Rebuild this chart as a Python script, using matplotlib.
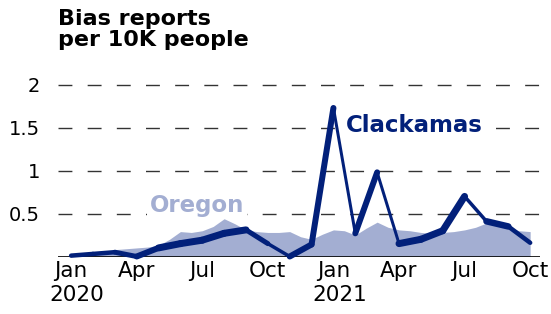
import numpy as np
import matplotlib.pyplot as plt
from matplotlib.collections import LineCollection

# month index: 0 = Jan 2020 ... 21 = Oct 2021
months = np.arange(22)
clackamas = [0.01, 0.03, 0.05, 0.00, 0.10, 0.15, 0.19, 0.27, 0.31, 0.15, 0.00, 0.14,
             1.73, 0.27, 0.98, 0.15, 0.20, 0.30, 0.70, 0.41, 0.35, 0.16]
# line thickness per month-to-month segment (pixels)
clack_width_px = [4.5, 4.5, 5, 6, 7, 7, 7, 7, 5, 3.5, 6, 6,
                  3, 6, 3, 7, 7, 7, 3.5, 6.5, 4.5]

# Oregon, read at half-month steps
oregon_months = np.arange(0, 21.5, 0.5)
oregon = [0.00, 0.02, 0.04, 0.06, 0.08, 0.09, 0.10, 0.11, 0.13, 0.20,
          0.29, 0.28, 0.30, 0.35, 0.44, 0.38, 0.31, 0.29, 0.28, 0.28,
          0.29, 0.23, 0.20, 0.26, 0.31, 0.30, 0.25, 0.33, 0.40, 0.34,
          0.31, 0.30, 0.28, 0.27, 0.28, 0.29, 0.31, 0.34, 0.39, 0.36,
          0.33, 0.30, 0.29]

tick_pos = [0, 3, 6, 9, 12, 15, 18, 21]
tick_labels = ['Jan', 'Apr', 'Jul', 'Oct', 'Jan', 'Apr', 'Jul', 'Oct']
years = {0: '2020', 12: '2021'}

navy = '#02207a'
light = '#a3aed2'

fig = plt.figure(figsize=(5.51, 3.14), dpi=100)
ax = fig.add_axes([58 / 551, 57.5 / 314, 482 / 551, 176 / 314])
ax.set_xlim(-0.6, 21.45)
ax.set_ylim(0, 2.05)

ax.fill_between(oregon_months, 0, oregon, color=light, lw=0, zorder=1)
ax.axhline(0, color='black', lw=1.2, zorder=2)

pts = np.column_stack([months, clackamas])
segs = np.stack([pts[:-1], pts[1:]], axis=1)
lc = LineCollection(segs, colors=navy, linewidths=np.array(clack_width_px) * 0.72,
                    capstyle='round', joinstyle='round', zorder=3, clip_on=False)
ax.add_collection(lc)

# white boxes break the grid lines behind the labels, but stay under the data
box = dict(facecolor='white', edgecolor='none', pad=2)
ax.text(3.6, 0.52, 'Oregon', color=light, fontsize=16.5, fontweight='bold',
        bbox=box, zorder=0.8)
ax.text(12.55, 1.45, 'Clackamas', color=navy, fontsize=16.5, fontweight='bold',
        bbox=box, zorder=0.8)

ax.set_yticks([0.5, 1, 1.5, 2])
ax.set_yticklabels(['0.5', '1', '1.5', '2'], fontsize=14)
ax.set_xticks(tick_pos)
ax.set_xticklabels(tick_labels, fontsize=15.5)
ax.tick_params(axis='y', length=0, pad=13)
ax.tick_params(axis='x', length=0, pad=3)
for m, yr in years.items():
    ax.text(m - 0.98, -0.33, yr, fontsize=15.5, ha='left', va='top')

ax.yaxis.grid(True, color='#333333', lw=1, linestyle=(0, (10, 11)), zorder=0.5)
ax.set_axisbelow(True)
for s in ax.spines.values():
    s.set_visible(False)

fig.text(58 / 551, 1 - 9 / 314, 'Bias reports\nper 10K people', fontsize=16,
         fontweight='bold', va='top', ha='left', linespacing=1.05)

fig.savefig('out.png', dpi=100)
